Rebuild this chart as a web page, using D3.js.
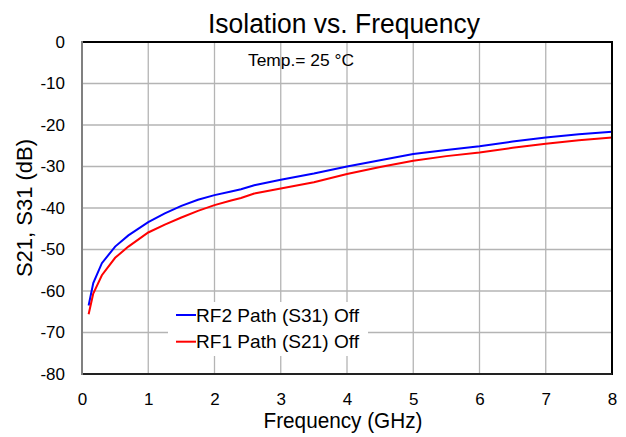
<!DOCTYPE html>
<html>
<head>
<meta charset="utf-8">
<script src="https://cdn.jsdelivr.net/npm/d3@7"></script>
<style>
  body { margin: 0; background: #fff; }
  text { font-family: "Liberation Sans", Arial, sans-serif; fill: #000; }
</style>
</head>
<body>
<script>
// frequency points (GHz)
var freq = [0.1, 0.17, 0.3, 0.5, 0.7, 1.0, 1.25, 1.5, 1.75, 2.0, 2.25, 2.4, 2.6,
            3.0, 3.5, 4.0, 4.5, 5.0, 5.5, 6.0, 6.5, 7.0, 7.5, 8.0];
// RF2 path (S31) off, dB
var s31 = [-63.5, -58.1, -53.3, -49.3, -46.6, -43.4, -41.3, -39.5, -38.0, -36.9, -36.0, -35.5, -34.5,
           -33.2, -31.7, -30.0, -28.5, -27.0, -26.0, -25.1, -24.0, -23.0, -22.2, -21.6];
// RF1 path (S21) off, dB
var s21 = [-65.6, -60.6, -56.2, -52.0, -49.3, -45.9, -44.0, -42.3, -40.7, -39.3, -38.2, -37.6, -36.5,
           -35.3, -33.8, -31.8, -30.1, -28.6, -27.5, -26.6, -25.5, -24.5, -23.7, -23.0];

var xTicks = [0, 1, 2, 3, 4, 5, 6, 7, 8];
var yTicks = [0, -10, -20, -30, -40, -50, -60, -70, -80];

var seriesNames = ["RF2 Path (S31) Off", "RF1 Path (S21) Off"];
var seriesColors = ["#0000ff", "#ff0000"];

//Width and height, plot frame
var w = 626, h = 437;
var pLeft = 82, pTop = 42, pRight = 612, pBottom = 374;

var svg = d3.select("body").append("svg")
    .attr("width", w)
    .attr("height", h);

var x = d3.scaleLinear().domain([0, 8]).range([pLeft, pRight]);
var y = d3.scaleLinear().domain([-80, 0]).range([pBottom, pTop]);

// gridlines
svg.append("g").selectAll("line")
   .data(xTicks.slice(1, -1))
   .enter().append("line")
   .attr("x1", function(d) { return x(d); })
   .attr("x2", function(d) { return x(d); })
   .attr("y1", pTop).attr("y2", pBottom)
   .attr("stroke", "#b4b4b4").attr("stroke-width", 1.3);

svg.append("g").selectAll("line")
   .data(yTicks.slice(1, -1))
   .enter().append("line")
   .attr("x1", pLeft).attr("x2", pRight)
   .attr("y1", function(d) { return y(d); })
   .attr("y2", function(d) { return y(d); })
   .attr("stroke", "#b4b4b4").attr("stroke-width", 1.3);

// axes (labels only, no tick marks); plain hyphen for minus
var plain = function(d) { return String(d); };

var xAxis = svg.append("g")
   .attr("transform", "translate(0," + pBottom + ")")
   .call(d3.axisBottom(x).tickValues(xTicks).tickSize(0).tickPadding(19).tickFormat(plain));
xAxis.select(".domain").remove();
xAxis.selectAll("text").attr("font-size", "17px").attr("font-family", "Liberation Sans, Arial, sans-serif");

var yAxis = svg.append("g")
   .attr("transform", "translate(" + pLeft + ",0)")
   .call(d3.axisLeft(y).tickValues(yTicks).tickSize(0).tickPadding(17).tickFormat(plain));
yAxis.select(".domain").remove();
yAxis.selectAll("text").attr("font-size", "17px").attr("font-family", "Liberation Sans, Arial, sans-serif");

// legend box (white, hides gridlines)
svg.append("rect")
   .attr("x", 168).attr("y", 302)
   .attr("width", 200).attr("height", 54)
   .attr("fill", "#fff");

// curves
var line = d3.line()
   .x(function(d, i) { return x(freq[i]); })
   .y(function(d) { return y(d); });

[s31, s21].forEach(function(s, k) {
  svg.append("path")
     .datum(s)
     .attr("d", line)
     .attr("fill", "none")
     .attr("stroke", seriesColors[k])
     .attr("stroke-width", 2);
});

// frame
svg.append("line").attr("x1", pLeft).attr("x2", pRight).attr("y1", pTop).attr("y2", pTop)
   .attr("stroke", "#000").attr("stroke-width", 2);
svg.append("line").attr("x1", pRight).attr("x2", pRight).attr("y1", pTop - 1).attr("y2", pBottom + 1)
   .attr("stroke", "#000").attr("stroke-width", 2);
svg.append("line").attr("x1", pLeft).attr("x2", pRight).attr("y1", pBottom).attr("y2", pBottom)
   .attr("stroke", "#222").attr("stroke-width", 2);
svg.append("line").attr("x1", pLeft).attr("x2", pLeft).attr("y1", pTop - 1).attr("y2", pBottom + 1)
   .attr("stroke", "#808080").attr("stroke-width", 2);

// legend entries
var leg = svg.append("g").selectAll("g")
   .data(seriesNames)
   .enter().append("g")
   .attr("transform", function(d, i) { return "translate(176," + (315 + i * 26.7) + ")"; });
leg.append("line")
   .attr("x1", 0).attr("x2", 20)
   .attr("stroke", function(d, i) { return seriesColors[i]; })
   .attr("stroke-width", 2);
leg.append("text")
   .attr("x", 20).attr("y", 6.7)
   .attr("font-size", "18.5px")
   .attr("textLength", 163)
   .attr("lengthAdjust", "spacingAndGlyphs")
   .text(function(d) { return d; });

// texts
svg.append("text")
   .attr("x", 344).attr("y", 32.7)
   .attr("text-anchor", "middle")
   .attr("font-size", "27px")
   .attr("textLength", 272)
   .attr("lengthAdjust", "spacingAndGlyphs")
   .text("Isolation vs. Frequency");

svg.append("text")
   .attr("x", 301).attr("y", 66)
   .attr("text-anchor", "middle")
   .attr("font-size", "16px")
   .attr("textLength", 106)
   .attr("lengthAdjust", "spacingAndGlyphs")
   .text("Temp.= 25 °C");

svg.append("text")
   .attr("x", 343).attr("y", 428.3)
   .attr("text-anchor", "middle")
   .attr("font-size", "22px")
   .attr("textLength", 159)
   .attr("lengthAdjust", "spacingAndGlyphs")
   .text("Frequency (GHz)");

svg.append("text")
   .attr("transform", "translate(32," + ((pTop + pBottom) / 2) + ") rotate(-90)")
   .attr("text-anchor", "middle")
   .attr("font-size", "22px")
   .text("S21, S31 (dB)");
</script>
</body>
</html>
